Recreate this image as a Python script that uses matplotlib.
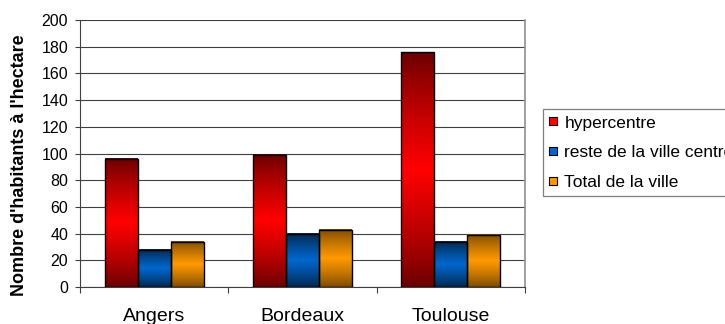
import matplotlib.pyplot as plt
import numpy as np
from matplotlib.colors import LinearSegmentedColormap
from matplotlib.lines import Line2D

villes = ["Angers", "Bordeaux", "Toulouse"]
series = ["hypercentre", "reste de la ville centre", "Total de la ville"]
hypercentre = [96, 99, 176]
reste_ville = [28, 40, 34]
total_ville = [34, 43, 39]

# (dark edge colour, bright centre colour) for each series
couleurs = [("#660000", "#ff0000"), ("#002448", "#0066cc"), ("#784800", "#ff9900")]

plt.rcParams["font.family"] = ["Liberation Sans", "DejaVu Sans"]

fig = plt.figure(figsize=(7.25, 3.24), dpi=100)
ax = fig.add_axes([80 / 725, 1 - 287 / 324, 445 / 725, 267 / 324])

x = np.arange(len(villes))
largeur = 0.222
# vertical ramp dark -> bright -> dark used to fill each bar
demi = np.linspace(0, 1, 64) ** 0.8
ramp = np.concatenate([demi, demi[::-1]])[:, None]

for i, (vals, (sombre, vif)) in enumerate(zip([hypercentre, reste_ville, total_ville], couleurs)):
    cmap = LinearSegmentedColormap.from_list(series[i], [sombre, vif])
    barres = ax.bar(x + (i - 1) * largeur, vals, largeur, facecolor="none",
                    edgecolor="black", linewidth=1.0, zorder=3)
    for b in barres:
        x0, w, h = b.get_x(), b.get_width(), b.get_height()
        ax.imshow(ramp, cmap=cmap, vmin=0, vmax=1, aspect="auto",
                  extent=[x0, x0 + w, 0, h], zorder=2, interpolation="bilinear")

ax.set_xlim(-0.5, len(villes) - 0.5)
ax.set_ylim(0, 200)
ax.set_yticks(np.arange(0, 201, 20))
ax.grid(axis="y", color="#404040", linewidth=0.8)
ax.set_axisbelow(True)

ax.set_xticks(x)
ax.set_xticklabels(villes, fontsize=14)
ax.tick_params(axis="x", which="major", length=0, pad=15)
ax.set_xticks(np.arange(-0.5, len(villes)), minor=True)
ax.tick_params(axis="x", which="minor", length=4.5, width=0.8, color="#404040")
ax.tick_params(axis="y", length=3.6, width=0.8, color="#404040", labelsize=11.5, pad=5)

for s in ["left", "bottom"]:
    ax.spines[s].set_color("#404040")
    ax.spines[s].set_linewidth(0.8)
ax.spines["top"].set_visible(False)
ax.spines["right"].set_color("#909090")
ax.spines["right"].set_linewidth(1.2)

ax.set_ylabel("Nombre d'habitants à l'hectare", fontsize=13, fontweight="bold", va="center")
ax.yaxis.set_label_coords(-0.137, 0.455)

poignees = [Line2D([], [], linestyle="", marker="s", markersize=5.5,
                   markerfacecolor=vif, markeredgecolor="black", markeredgewidth=0.8)
            for _, vif in couleurs]
leg = fig.legend(poignees, series, loc="upper left", bbox_to_anchor=(542.7 / 725, 1 - 109.3 / 324),
                 fontsize=12.5, frameon=True, fancybox=False, edgecolor="#606060",
                 handlelength=0.45, handletextpad=0.45, labelspacing=0.85, borderpad=0.35,
                 borderaxespad=0)
leg.get_frame().set_linewidth(0.9)

fig.savefig("out.png", dpi=100)
